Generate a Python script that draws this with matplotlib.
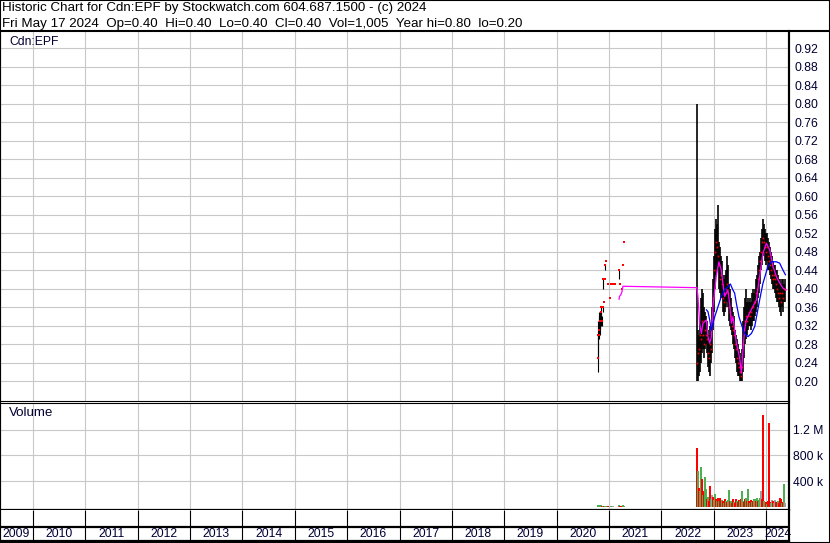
import matplotlib
matplotlib.use("Agg")
import matplotlib.pyplot as plt
import pandas as pd
from matplotlib.lines import Line2D
from matplotlib.patches import Rectangle

plt.rcParams["font.family"] = ["Liberation Sans", "DejaVu Sans"]

TITLE = "Historic Chart for Cdn:EPF by Stockwatch.com 604.687.1500 - (c) 2024"
SUBTITLE = "Fri May 17 2024  Op=0.40  Hi=0.40  Lo=0.40  Cl=0.40  Vol=1,005  Year hi=0.80  lo=0.20"

# sparse trading, autumn 2020 to spring 2021
early_dates = ["2020-10-16", "2020-10-19", "2020-10-21", "2020-10-23", "2020-10-28",
               "2020-11-02", "2020-11-04", "2020-11-09", "2020-11-16", "2020-11-20",
               "2020-11-23", "2020-11-25", "2020-12-02", "2020-12-04", "2020-12-09",
               "2020-12-23", "2021-01-06", "2021-01-18", "2021-01-29", "2021-02-10",
               "2021-03-12", "2021-03-17", "2021-03-31", "2021-04-09", "2021-04-14"]
early_high = [0.30, 0.33, 0.35, 0.34, 0.35, 0.34, 0.35, 0.36, 0.34, 0.36, 0.42, 0.37, 0.42,
              0.45, 0.46, 0.41, 0.38, 0.41, 0.41, 0.41, 0.44, 0.41, 0.40, 0.45, 0.50]
early_low = [0.22, 0.25, 0.29, 0.30, 0.30, 0.31, 0.32, 0.34, 0.32, 0.35, 0.40, 0.37, 0.42,
             0.44, 0.46, 0.41, 0.38, 0.41, 0.41, 0.41, 0.42, 0.41, 0.40, 0.45, 0.50]
early_close = [0.25, 0.30, 0.30, 0.31, 0.33, 0.33, 0.35, 0.36, 0.33, 0.36, 0.42, 0.37, 0.42,
               0.45, 0.46, 0.41, 0.38, 0.41, 0.41, 0.41, 0.44, 0.41, 0.40, 0.45, 0.50]
early_volume = [30, 25, 20, 28, 15, 22, 18, 25, 20, 15, 12, 10, 14, 20, 12, 10, 8, 10, 12, 8,
                25, 10, 12, 30, 20]
early_vol_color = ["g", "g", "r", "g", "r", "g", "r", "g", "r", "g", "g", "r", "g", "g", "g",
                   "r", "r", "g", "k", "k", "g", "r", "r", "g", "g"]

# weekly ranges from September 2022 to May 2024
week_start = "2022-09-05"
week_high = [0.80, 0.31, 0.30, 0.33, 0.38, 0.40, 0.39, 0.36, 0.35, 0.34, 0.33, 0.31, 0.30,
             0.32, 0.30, 0.36, 0.42, 0.47, 0.53, 0.55, 0.54, 0.58, 0.50, 0.49, 0.47, 0.46,
             0.43, 0.42, 0.43, 0.44, 0.47, 0.45, 0.41, 0.40, 0.38, 0.36, 0.35, 0.34, 0.31,
             0.30, 0.29, 0.28, 0.27, 0.26, 0.25, 0.27, 0.33, 0.36, 0.38, 0.40, 0.37, 0.38,
             0.37, 0.38, 0.37, 0.39, 0.40, 0.39, 0.40, 0.42, 0.43, 0.45, 0.47, 0.48, 0.51,
             0.53, 0.55, 0.54, 0.53, 0.52, 0.52, 0.51, 0.50, 0.49, 0.48, 0.47, 0.46, 0.45,
             0.45, 0.44, 0.44, 0.43, 0.42, 0.42, 0.41, 0.42, 0.42, 0.41, 0.42]
week_low = [0.20, 0.20, 0.21, 0.22, 0.24, 0.26, 0.27, 0.25, 0.27, 0.28, 0.26, 0.23, 0.22,
            0.21, 0.24, 0.26, 0.31, 0.35, 0.40, 0.43, 0.44, 0.44, 0.40, 0.39, 0.38, 0.38,
            0.35, 0.34, 0.35, 0.36, 0.37, 0.36, 0.33, 0.32, 0.31, 0.30, 0.28, 0.27, 0.25,
            0.24, 0.22, 0.21, 0.21, 0.20, 0.20, 0.20, 0.22, 0.25, 0.28, 0.29, 0.30, 0.31,
            0.32, 0.32, 0.31, 0.32, 0.33, 0.33, 0.34, 0.35, 0.36, 0.38, 0.39, 0.41, 0.44,
            0.45, 0.47, 0.48, 0.46, 0.45, 0.46, 0.44, 0.44, 0.43, 0.42, 0.41, 0.40, 0.40,
            0.39, 0.38, 0.37, 0.37, 0.36, 0.35, 0.34, 0.36, 0.35, 0.37, 0.37]
week_close = [0.24, 0.26, 0.27, 0.30, 0.29, 0.33, 0.30, 0.28, 0.31, 0.30, 0.29, 0.26, 0.25,
              0.28, 0.27, 0.33, 0.38, 0.44, 0.48, 0.50, 0.49, 0.47, 0.45, 0.42, 0.43, 0.41,
              0.38, 0.37, 0.39, 0.40, 0.41, 0.39, 0.36, 0.35, 0.34, 0.32, 0.31, 0.30, 0.28,
              0.27, 0.25, 0.24, 0.23, 0.22, 0.21, 0.23, 0.28, 0.31, 0.33, 0.34, 0.33, 0.34,
              0.35, 0.34, 0.35, 0.36, 0.36, 0.37, 0.37, 0.39, 0.40, 0.42, 0.44, 0.46, 0.48,
              0.50, 0.51, 0.50, 0.49, 0.48, 0.49, 0.47, 0.46, 0.45, 0.44, 0.43, 0.42, 0.43,
              0.42, 0.41, 0.40, 0.39, 0.38, 0.39, 0.37, 0.39, 0.38, 0.40, 0.40]
# thousands of shares
week_volume = [918, 557, 300, 250, 620, 434, 180, 248, 465, 274, 124, 150, 90, 325, 120, 181,
               150, 110, 196, 130, 100, 144, 90, 144, 80, 110, 90, 70, 124, 90, 80, 110, 258,
               90, 100, 70, 124, 80, 70, 124, 90, 80, 110, 90, 120, 248, 100, 80, 124, 140,
               90, 274, 100, 60, 110, 80, 90, 124, 130, 90, 135, 100, 110, 140, 248, 120,
               1430, 100, 60, 80, 50, 100, 1300, 80, 60, 104, 90, 60, 104, 80, 60, 90, 70,
               144, 124, 60, 80, 352, 70]
week_vol_color = ["r", "g", "r", "g", "g", "r", "g", "r", "g", "g", "r", "g", "r", "r", "g",
                  "k", "r", "g", "g", "r", "g", "r", "g", "r", "r", "g", "r", "g", "r", "g",
                  "r", "g", "g", "r", "g", "r", "r", "g", "r", "r", "g", "r", "r", "g", "r",
                  "g", "g", "r", "r", "g", "r", "g", "r", "g", "r", "g", "r", "g", "g", "r",
                  "g", "r", "g", "g", "k", "r", "r", "g", "g", "r", "g", "r", "r", "r", "g",
                  "k", "r", "g", "k", "r", "r", "g", "r", "r", "r", "g", "r", "g", "k"]

# moving averages as drawn on the chart
fast_ma_dates = ["2021-03-12", "2021-03-15", "2021-03-25", "2021-04-01", "2021-04-08",
                 "2022-09-06", "2022-09-13", "2022-09-25", "2022-10-07", "2022-10-18",
                 "2022-11-11", "2022-11-22", "2022-12-04", "2022-12-16", "2022-12-27",
                 "2023-01-08", "2023-01-19", "2023-02-06", "2023-02-23", "2023-03-06",
                 "2023-03-18", "2023-03-30", "2023-04-10", "2023-04-22", "2023-05-04",
                 "2023-05-15", "2023-05-27", "2023-06-08", "2023-06-19", "2023-07-01",
                 "2023-07-13", "2023-07-24", "2023-08-04", "2023-08-16", "2023-09-08",
                 "2023-10-01", "2023-10-25", "2023-11-17", "2023-12-10", "2024-01-03",
                 "2024-01-26", "2024-02-18", "2024-03-13", "2024-04-05", "2024-04-28",
                 "2024-05-17"]
fast_ma = [0.377, 0.383, 0.387, 0.393, 0.405, 0.402, 0.383, 0.325, 0.303, 0.325, 0.332,
           0.296, 0.282, 0.296, 0.361, 0.397, 0.426, 0.458, 0.440, 0.412, 0.383, 0.390,
           0.397, 0.368, 0.325, 0.339, 0.310, 0.282, 0.267, 0.250, 0.217, 0.267, 0.310,
           0.332, 0.347, 0.361, 0.375, 0.426, 0.476, 0.498, 0.484, 0.448, 0.426, 0.412,
           0.401, 0.397]
slow_ma_dates = ["2022-11-11", "2022-11-22", "2022-12-04", "2022-12-16", "2022-12-27",
                 "2023-01-08", "2023-01-31", "2023-02-23", "2023-03-18", "2023-04-10",
                 "2023-04-27", "2023-05-15", "2023-05-27", "2023-06-08", "2023-06-26",
                 "2023-07-05", "2023-08-04", "2023-08-28", "2023-09-21", "2023-10-14",
                 "2023-11-17", "2023-12-10", "2024-01-14", "2024-02-07", "2024-03-13",
                 "2024-04-05", "2024-04-28", "2024-05-15"]
slow_ma = [0.354, 0.350, 0.332, 0.310, 0.325, 0.339, 0.361, 0.383, 0.397, 0.404, 0.410,
           0.397, 0.390, 0.368, 0.339, 0.330, 0.303, 0.296, 0.303, 0.318, 0.375, 0.411,
           0.448, 0.458, 0.458, 0.455, 0.440, 0.430]

price_ticks = [0.20, 0.24, 0.28, 0.32, 0.36, 0.40, 0.44, 0.48, 0.52, 0.56, 0.60, 0.64,
               0.68, 0.72, 0.76, 0.80, 0.84, 0.88, 0.92]
volume_ticks = [400_000, 800_000, 1_200_000]
volume_tick_labels = ["400 k", "800 k", "1.2 M"]
years = list(range(2009, 2025))

W, H = 830, 543
LABEL = "#000033"
GRID = "#c8c8c8"
VOL_COLORS = {"r": "#ff0000", "g": "#4caf50", "k": "#a0a0a0"}
FS = 8.7
HEAD_FS = 9.6


def box(x0, y0, x1, y1):
    return [x0 / W, 1 - y1 / H, (x1 - x0) / W, (y1 - y0) / H]


fig = plt.figure(figsize=(W / 100, H / 100), dpi=100)
ax_p = fig.add_axes(box(0, 31, 789, 400.7))
ax_v = fig.add_axes(box(0, 402.7, 789, 510))
ax_d = fig.add_axes(box(0, 510, 789, 541))

xmin, xmax = pd.Timestamp("2009-05-17"), pd.Timestamp("2024-06-09")
boundaries = [pd.Timestamp(f"{y}-01-01") for y in years[1:]]

for ax in (ax_p, ax_v, ax_d):
    ax.set_xlim(xmin, xmax)
    ax.set_xticks(boundaries)
    ax.tick_params(axis="x", length=0, labelbottom=False)
    for s in ax.spines.values():
        s.set_color("black")

# price panel
early_x = pd.to_datetime(early_dates)
weeks = pd.date_range(week_start, periods=len(week_high), freq="W-MON")
ax_p.vlines(early_x, early_low, early_high, color="black", lw=0.8, zorder=3, snap=True)
ax_p.vlines(weeks, week_low, week_high, color="black", lw=1.2, zorder=3, snap=True)
ax_p.plot(early_x, early_close, "s", color="red", ms=1.5, mew=0, zorder=4)
ax_p.plot(weeks, week_close, "s", color="red", ms=1.2, mew=0, zorder=4)
ax_p.plot(pd.to_datetime(fast_ma_dates), fast_ma, color="#ff00ff", lw=0.9, zorder=5)
ax_p.plot(pd.to_datetime(slow_ma_dates), slow_ma, color="#0000ff", lw=0.9, zorder=5)
ax_p.set_ylim(0.1574, 0.9574)
ax_p.set_yticks(price_ticks, [f"{t:.2f}" for t in price_ticks])
ax_p.yaxis.tick_right()
ax_p.tick_params(axis="y", length=0, pad=4, labelsize=FS, labelcolor=LABEL)
ax_p.grid(True, color=GRID, lw=0.8, zorder=0)
ax_p.set_axisbelow(True)
ax_p.spines["top"].set_visible(False)
ax_p.spines["left"].set_linewidth(1.5)
ax_p.spines["right"].set_linewidth(1.5)
ax_p.spines["bottom"].set_linewidth(0.8)
ax_p.text(9.3 / 789, 1 - 10.7 / 369.7, "Cdn:EPF", transform=ax_p.transAxes,
          fontsize=FS, color=LABEL, va="center", ha="left")

# volume panel
ax_v.vlines(early_x, 0, [v * 1000 for v in early_volume], lw=1.44, snap=True,
            colors=[VOL_COLORS[c] for c in early_vol_color], zorder=3)
ax_v.vlines(weeks, 0, [v * 1000 for v in week_volume], lw=1.44, snap=True,
            colors=[VOL_COLORS[c] for c in week_vol_color], zorder=3)
ax_v.set_ylim(-45_000, 1_615_000)
ax_v.set_yticks(volume_ticks, volume_tick_labels)
ax_v.yaxis.tick_right()
ax_v.tick_params(axis="y", length=0, pad=3, labelsize=FS, labelcolor=LABEL)
ax_v.grid(True, color=GRID, lw=0.8, zorder=0)
ax_v.set_axisbelow(True)
ax_v.spines["top"].set_linewidth(0.8)
ax_v.spines["bottom"].set_linewidth(1.6)
ax_v.spines["left"].set_linewidth(1.5)
ax_v.spines["right"].set_linewidth(1.5)
ax_v.text(9.3 / 789, 1 - 10.8 / 107.3, "Volume", transform=ax_v.transAxes,
          fontsize=HEAD_FS, color=LABEL, va="center", ha="left")

# date strip
ax_d.set_ylim(0, 1)
ax_d.set_yticks([])
split = 14 / 31
ax_d.axhline(split, color="black", lw=1.6)
ax_d.vlines(boundaries, 0, 1, color="black", lw=0.8)
ax_d.spines["top"].set_visible(False)
ax_d.spines["bottom"].set_linewidth(1.6)
ax_d.spines["left"].set_linewidth(1.5)
ax_d.spines["right"].set_linewidth(1.5)
edges = [xmin] + boundaries + [xmax]
for year, a, b in zip(years, edges[:-1], edges[1:]):
    mid = a + (b - a) / 2
    ax_d.text(mid, 6.7 / 31, str(year), ha="center", va="center", fontsize=FS, color=LABEL)

# header and frame
fig.text(2 / W, 1 - 11 / H, TITLE, fontsize=HEAD_FS, color="black", va="baseline")
fig.text(2 / W, 1 - 27.3 / H, SUBTITLE, fontsize=HEAD_FS, color="black", va="baseline")
fig.add_artist(Line2D([0, 1], [1 - 31 / H] * 2, transform=fig.transFigure, color="black", lw=1.5))
fig.add_artist(Line2D([789 / W] * 2, [1 - 31 / H, 1 - 541 / H], transform=fig.transFigure,
                      color="black", lw=1.5))
fig.add_artist(Rectangle((0, 0), 1, 1, transform=fig.transFigure, fill=False,
                         edgecolor="black", lw=1.5))

fig.savefig("out.png", dpi=100, facecolor="white")
